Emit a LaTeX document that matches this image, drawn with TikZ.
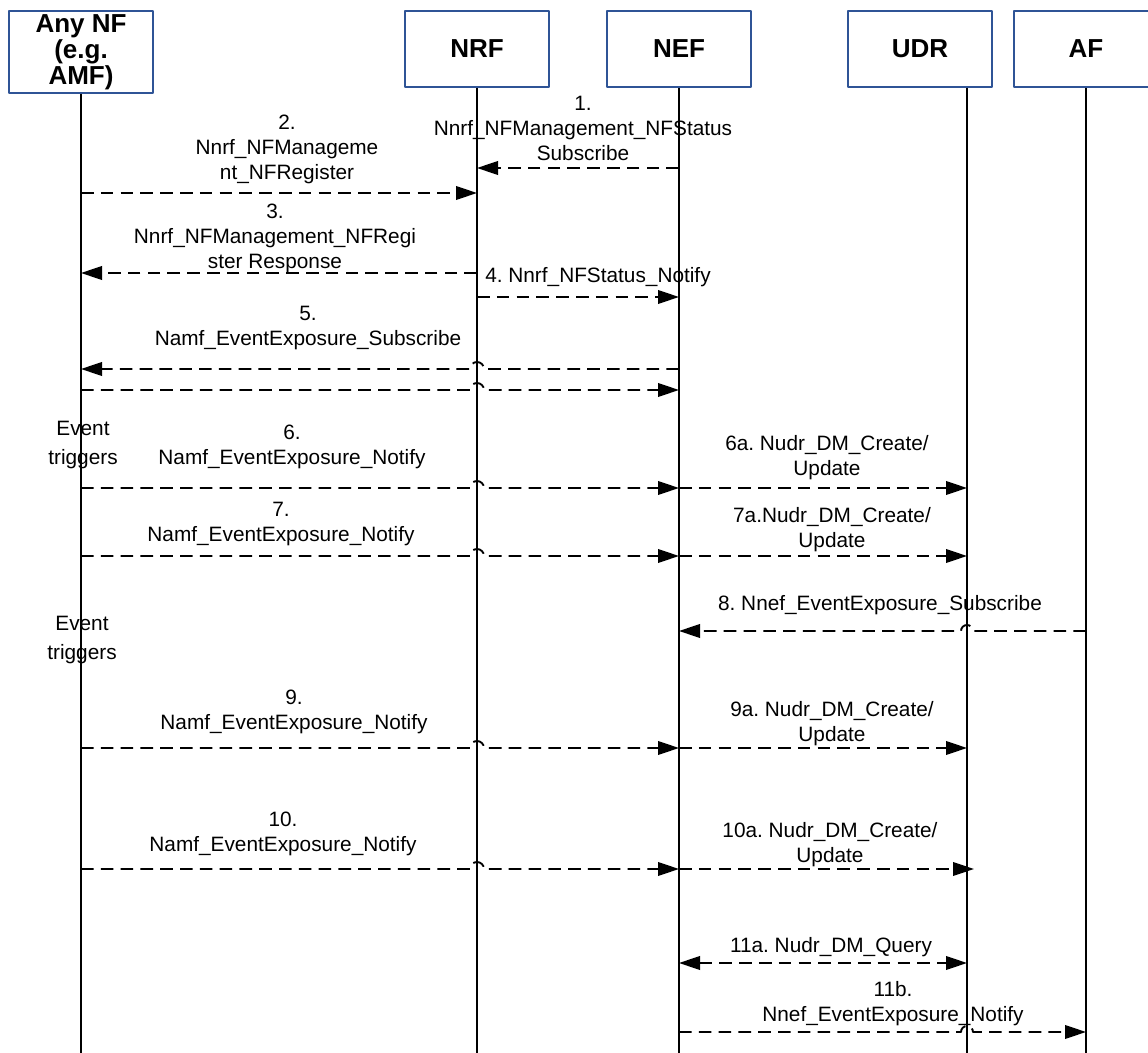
\documentclass[tikz,border=0pt]{standalone}
\usepackage{fontspec}
\setmainfont{Liberation Sans}
\usetikzlibrary{arrows.meta,calc}
\definecolor{boxblue}{HTML}{2F5496}
\frenchspacing

\begin{document}
\begin{tikzpicture}[x=0.5pt,y=-0.5pt,line join=round,>={Triangle[length=10.5pt,width=6.8pt]},
  nfbox/.style={draw=boxblue,line width=0.85pt,minimum width=72pt,minimum height=38pt,inner sep=0pt,align=center,font=\bfseries\fontsize{13}{13}\selectfont},
  life/.style={line width=0.85pt},
  msg/.style={->,line width=0.95pt,dash pattern=on 6.3pt off 3.6pt},
  lbl/.style={align=center,inner sep=0pt,font=\fontsize{10.4}{12.5}\selectfont},
  trig/.style={align=center,inner sep=0pt,font=\fontsize{10.4}{14.5}\selectfont}]
  \useasboundingbox (0,0) rectangle (1148,1053);
  % network functions on top
  \node[nfbox,minimum height=41pt] (anf) at (81,52) {Any NF\\(e.g.\\AMF)};
  \node[nfbox] (nrf) at (477,49) {NRF};
  \node[nfbox] (nef) at (679,49) {NEF};
  \node[nfbox] (udr) at (920,49) {UDR};
  \node[nfbox] (af) at (1086,49) {AF};
  % lifelines
  \coordinate (anf-l) at (anf.south);
  \coordinate (nrf-l) at (nrf.south);
  \coordinate (nef-l) at (nef.south);
  \coordinate (udr-l) at ($(udr.south)+(47,0)$);
  \coordinate (af-l) at (af.south);
  \coordinate (bot) at (0,1053);
  \draw[life] (anf-l) -- (anf-l |- bot);
  \draw[life] (nrf-l) -- (nrf-l |- bot);
  \draw[life] (nef-l) -- (nef-l |- bot);
  \draw[life] (udr-l) -- (udr-l |- bot);
  \draw[life] (af-l) -- (af-l |- bot);
  % message rows
  \coordinate (r1) at (0,168);
  \coordinate (r2) at (0,193);
  \coordinate (r3) at (0,273);
  \coordinate (r4) at (0,297);
  \coordinate (r5a) at (0,369);
  \coordinate (r5b) at (0,390);
  \coordinate (r6) at (0,488);
  \coordinate (r7) at (0,556);
  \coordinate (r8) at (0,631);
  \coordinate (r9) at (0,748);
  \coordinate (r10) at (0,869);
  \coordinate (r11a) at (0,963);
  \coordinate (r11b) at (0,1032);
  % registration and status
  \draw[msg] (nef-l |- r1) -- (nrf-l |- r1);
  \node[lbl] (l1) at (583,128) {1.\\Nnrf\_NFManagement\_NFStatus\\Subscribe};
  \draw[msg] (anf-l |- r2) -- (nrf-l |- r2);
  \node[lbl] (l2) at (287,149) {2.\\Nnrf\_NFManageme\\nt\_NFRegister};
  \draw[msg] (nrf-l |- r3) -- (anf-l |- r3);
  \node[lbl] (l3) at (275,238) {3.\\Nnrf\_NFManagement\_NFRegi\\ster Response};
  \draw[msg] (nrf-l |- r4) -- (nef-l |- r4);
  \node[lbl] (l4) at (598,277) {4. Nnrf\_NFStatus\_Notify};
  % subscription to the NF
  \draw[msg] (nef-l |- r5a) -- ($(nrf-l |- r5a)+(7,0)$) arc[start angle=0,end angle=180,radius=3.5pt] -- (anf-l |- r5a);
  \node[lbl] (l5) at (308,328) {5.\\Namf\_EventExposure\_Subscribe};
  \draw[msg] (anf-l |- r5b) -- ($(nrf-l |- r5b)+(-7,0)$) arc[start angle=180,end angle=0,radius=3.5pt] -- (nef-l |- r5b);
  % notifications stored in UDR
  \node[trig] (et1) at (83,445) {Event\\triggers};
  \draw[msg] (anf-l |- r6) -- ($(nrf-l |- r6)+(-7,0)$) arc[start angle=180,end angle=0,radius=3.5pt] -- (nef-l |- r6);
  \node[lbl] (l6) at (292,447) {6.\\Namf\_EventExposure\_Notify};
  \draw[msg] (nef-l |- r6) -- (udr-l |- r6);
  \node[lbl] (l6a) at (827,458) {6a. Nudr\_DM\_Create/\\Update};
  \draw[msg] (anf-l |- r7) -- ($(nrf-l |- r7)+(-7,0)$) arc[start angle=180,end angle=0,radius=3.5pt] -- (nef-l |- r7);
  \node[lbl] (l7) at (281,524) {7.\\Namf\_EventExposure\_Notify};
  \draw[msg] (nef-l |- r7) -- (udr-l |- r7);
  \node[lbl] (l7a) at (832,530) {7a.Nudr\_DM\_Create/\\Update};
  % AF subscribes at NEF
  \draw[msg] (af-l |- r8) -- ($(udr-l |- r8)+(6,0)$) arc[start angle=0,end angle=180,radius=3pt] -- (nef-l |- r8);
  \node[lbl] (l8) at (880,605) {8. Nnef\_EventExposure\_Subscribe};
  \node[trig] (et2) at (82,640) {Event\\triggers};
  \draw[msg] (anf-l |- r9) -- ($(nrf-l |- r9)+(-7,0)$) arc[start angle=180,end angle=0,radius=3.5pt] -- (nef-l |- r9);
  \node[lbl] (l9) at (294,712) {9.\\Namf\_EventExposure\_Notify};
  \draw[msg] (nef-l |- r9) -- (udr-l |- r9);
  \node[lbl] (l9a) at (832,724) {9a. Nudr\_DM\_Create/\\Update};
  \draw[msg] (anf-l |- r10) -- ($(nrf-l |- r10)+(-7,0)$) arc[start angle=180,end angle=0,radius=3.5pt] -- (nef-l |- r10);
  \node[lbl] (l10) at (283,834) {10.\\Namf\_EventExposure\_Notify};
  \draw[msg] (nef-l |- r10) -- ($(udr-l |- r10)+(7,0)$);
  \node[lbl] (l10a) at (830,845) {10a. Nudr\_DM\_Create/\\Update};
  % query and notify AF
  \draw[msg,<->] (nef-l |- r11a) -- (udr-l |- r11a);
  \node[lbl] (l11a) at (831,947) {11a. Nudr\_DM\_Query};
  \draw[msg] (nef-l |- r11b) -- ($(udr-l |- r11b)+(-6,0)$) arc[start angle=180,end angle=0,radius=3pt] -- (af-l |- r11b);
  \node[lbl] (l11b) at (893,1004) {11b.\\Nnef\_EventExposure\_Notify};
\end{tikzpicture}
\end{document}
